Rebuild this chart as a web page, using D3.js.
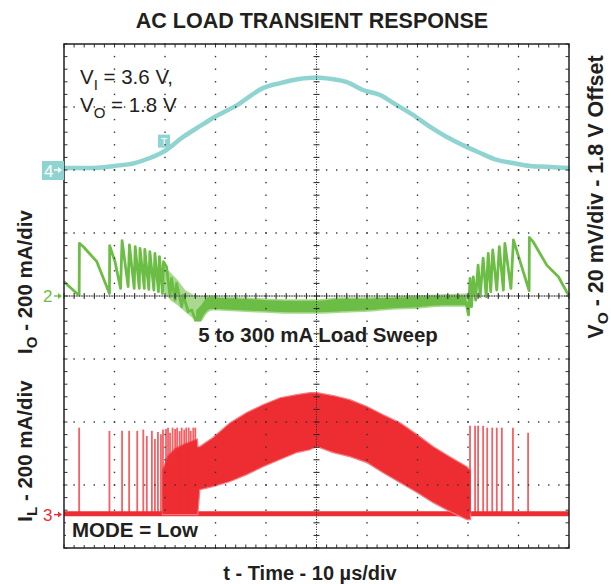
<!DOCTYPE html>
<html><head><meta charset="utf-8">
<script src="https://cdn.jsdelivr.net/npm/d3@7"></script>
<style>
html,body{margin:0;padding:0;background:#fff;}
svg{display:block;font-family:"Liberation Sans",Arial,Helvetica,sans-serif;}
</style></head><body>
<svg id="c" width="611" height="584"></svg>
<script>
// ---------- data ----------
const timeDomain = [0, 100];            // µs, 10 µs/div
const xDivisions = 10, yDivisions = 8;
const chPos = {vo: 2, io: 0, il: -3.47}; // channel reference levels, in divisions

// Channel 4: V_O (mV, 1.8 V offset, 20 mV/div)
const voT  = [0, 5, 10, 14, 17, 19.6, 23.6, 27, 29.5, 34.3, 39.4, 42.8, 46.5, 50, 53, 56, 59.2, 62.6, 65.9, 69.1, 72.5, 75.8, 79, 82.4, 85.7, 88.9, 92.3, 95.6, 100];
const voMV = [0.6, 0.6, 1.3, 2.2, 3.8, 5.7, 10.5, 14.0, 16.5, 20.6, 26.0, 27.6, 28.9, 29.4, 28.9, 27.9, 25.4, 23.8, 20.6, 17.5, 13.7, 10.5, 7.9, 5.4, 3.2, 2.2, 1.3, 1.0, 0.6];

// Channel 2: I_O (mA, 200 mA/div) - trace line
const ioT  = [0, 2.5, 3.0, 3.05, 3.8, 6.5, 9.0, 9.05, 10.1, 11.2, 11.5, 12.7, 12.95, 13.9, 14.1, 14.9, 15.05, 15.9, 16.0, 16.8, 17.0, 17.8, 18.0, 18.7, 18.9, 19.5, 19.7, 20.3, 21.0, 21.3, 22.0, 22.3, 23.3, 23.6, 24.6, 25.3, 26.0, 26.9, 27.6, 28.6, 29.6, 35, 40, 50, 60, 70, 78, 79.6,
              80.1, 80.4, 80.7, 81.05, 81.5, 82.0, 82.4, 83.0, 83.6, 84.0, 84.5, 84.9, 85.7, 86.2, 87.0, 87.3, 88.5, 89.0, 92.1, 92.15, 92.9, 95.6, 97.9, 99.9];
const ioMA = [45, 8.5, 3, 167, 157, 109, 8, 160, 109, 24, 176, 30, 162, 24, 157, 24, 151, 24, 148, 21, 141, 19, 135, 14, 125, 8, 109, 93, -2, 56, -13, 40, -34, 3, -50, -44, -76, -76, -44, -13, -7, -25, -30, -32, -25, -18, -15, -20,
              -60, 56, -34, 61, -13, 98, -2, 120, -2, 135, 14, 146, 19, 157, 19, 167, 24, 178, 17, 186, 172, 98, 61, 3];
// I_O noise band (light, transition) and (dark, steady)
const ioLightT  = [19.5, 21, 22.5, 24, 25.5, 27, 28.5, 29.5];
const ioLightHi = [98, 76, 51, 19, 5, 0, 0, -3];
const ioLightLo = [19, -13, -29, -51, -70, -79, -51, -44];
const ioBandT  = [26, 27, 28, 29, 30, 35, 40, 45, 50, 55, 60, 65, 70, 75, 79.8];
const ioBandHi = [-44, -29, -6, 0, -3, -6, -10, -13, -13, -6, -6, -3, 0, 3, 6];
const ioBandLo = [-79, -79, -57, -44, -44, -48, -51, -54, -54, -51, -48, -41, -38, -32, -32];

// Channel 3: I_L (mA, 200 mA/div)
const ilBaseT  = [0, 100];
const ilBaseMA = [3, 3];
const ilT  = [19.5, 20.5, 22, 24, 26.4, 26.5, 26.9, 29.5, 32.9, 36.2, 39.4, 42.8, 46.1, 48.7, 50.1, 53.3, 56.6, 60, 63.2, 66.5, 69.9, 73.1, 76.4, 79.8, 80.5];
const ilHi = [140, 185, 210, 225, 240, 216, 216, 245, 292, 324, 349, 371, 381, 387, 387, 378, 365, 343, 317, 292, 254, 216, 184, 152, 140];
const ilLo = [0, 0, 0, 0, 0, 0, 79, 89, 105, 127, 152, 175, 197, 206, 216, 197, 184, 165, 133, 102, 70, 38, 10, -16, -16];
const spikeT  = [3.0, 9.0, 11.5, 12.9, 14.5, 15.7, 16.4, 17.4, 18.0, 18.6, 19.2, 19.6, 20.2, 20.6, 21.0, 21.5, 22.0, 22.4, 22.9, 23.3, 23.8, 24.2, 24.7, 25.1, 25.6, 26.0,
                 80.4, 81.4, 82.0, 83.0, 83.8, 84.8, 85.7, 86.7, 88.9, 91.9];
const spikeMA = [276, 266, 266, 266, 266, 270, 250, 266, 240, 262, 255, 270, 272, 276, 260, 276, 272, 276, 265, 276, 270, 276, 276, 266, 276, 276,
                 282, 282, 282, 282, 276, 276, 276, 276, 276, 260];

const trigT = 19.8, trigMV = 9;

// ---------- drawing ----------
const svg = d3.select("#c");
const L = 64, R = 569, T = 44, B = 548;
const xT = d3.scaleLinear().domain(timeDomain).range([L, R]);
const xDiv = d3.scaleLinear().domain([0, xDivisions]).range([L, R]);
const yDiv = d3.scaleLinear().domain([-yDivisions/2, yDivisions/2]).range([B, T]);
const yVO = d3.scaleLinear().domain([0, 20]).range([yDiv(chPos.vo), yDiv(chPos.vo + 1)]);
const yIO = d3.scaleLinear().domain([0, 200]).range([yDiv(chPos.io), yDiv(chPos.io + 1)]);
const yIL = d3.scaleLinear().domain([0, 200]).range([yDiv(chPos.il), yDiv(chPos.il + 1)]);

const CY = "#8fd4d1", GR = "#6cbd45", GRL = "#a8d98f", RD = "#ee2d33", RDL = "#f47b80", INK = "#231f20";

const zip = (a, b) => a.map((v, i) => [v, b[i]]);
const traces = svg.append("g");

// red I_L
traces.append("path").datum(zip(ilBaseT, ilBaseMA))
  .attr("d", d3.line().x(d => xT(d[0])).y(d => yIL(d[1])))
  .attr("fill", "none").attr("stroke", RD).attr("stroke-width", 5);
traces.append("path").datum(ilT.map((t, i) => [t, ilLo[i], ilHi[i]]))
  .attr("d", d3.area().x(d => xT(d[0])).y0(d => yIL(d[1])).y1(d => yIL(d[2])))
  .attr("fill", RD).attr("stroke", RDL).attr("stroke-width", 1.2);
traces.selectAll(".spk").data(zip(spikeT, spikeMA)).join("line")
  .attr("x1", d => xT(d[0])).attr("x2", d => xT(d[0]))
  .attr("y1", yIL(ilBaseMA[0])).attr("y2", d => yIL(d[1]))
  .attr("stroke", RD).attr("stroke-width", 1.8).attr("opacity", 0.75);

// green I_O
traces.append("path").datum(ioLightT.map((t, i) => [t, ioLightLo[i], ioLightHi[i]]))
  .attr("d", d3.area().x(d => xT(d[0])).y0(d => yIO(d[1])).y1(d => yIO(d[2])))
  .attr("fill", GRL);
traces.append("path").datum(ioBandT.map((t, i) => [t, ioBandLo[i], ioBandHi[i]]))
  .attr("d", d3.area().x(d => xT(d[0])).y0(d => yIO(d[1])).y1(d => yIO(d[2])).curve(d3.curveMonotoneX))
  .attr("fill", GR).attr("stroke", GRL).attr("stroke-width", 1.5);
traces.append("path").datum(zip(ioT, ioMA))
  .attr("d", d3.line().x(d => xT(d[0])).y(d => yIO(d[1])))
  .attr("fill", "none").attr("stroke", GR).attr("stroke-width", 2.8).attr("stroke-linejoin", "round");

// cyan V_O
traces.append("path").datum(zip(voT, voMV))
  .attr("d", d3.line().x(d => xT(d[0])).y(d => yVO(d[1])).curve(d3.curveMonotoneX))
  .attr("fill", "none").attr("stroke", CY).attr("stroke-width", 4.5);
// trigger marker
const tg = traces.append("g").attr("transform", `translate(${xT(trigT)},${yVO(trigMV)})`);
tg.append("rect").attr("x", -6).attr("y", -7).attr("width", 12).attr("height", 13).attr("fill", CY);
tg.append("text").attr("x", 0).attr("y", 4).attr("text-anchor", "middle").attr("font-size", 11).attr("fill", "#fff").text("T");

// ---------- grid ----------
const grid = svg.append("g");
const minorX = d3.range(0, xDivisions * 5 + 1).map(i => i / 5);
const minorY = d3.range(0, yDivisions * 5 + 1).map(i => -yDivisions/2 + i / 5);
const dots = [];
for (let i = 1; i < xDivisions; i++) { if (i === xDivisions/2) continue; minorY.forEach(m => dots.push([xDiv(i), yDiv(m)])); }
for (let j = -yDivisions/2 + 1; j < yDivisions/2; j++) { if (j === 0) continue; minorX.forEach(m => dots.push([xDiv(m), yDiv(j)])); }
grid.selectAll(".d").data(dots).join("rect")
  .attr("x", d => d[0] - 0.7).attr("y", d => d[1] - 0.7).attr("width", 1.4).attr("height", 1.4).attr("fill", "#333");
// center lines
grid.append("line").attr("x1", L).attr("x2", R).attr("y1", yDiv(0)).attr("y2", yDiv(0)).attr("stroke", "#999").attr("stroke-width", 1);
grid.append("line").attr("x1", L).attr("x2", R).attr("y1", yDiv(0)).attr("y2", yDiv(0)).attr("stroke", "#222").attr("stroke-width", 1).attr("stroke-dasharray", "1,1.5");
grid.append("line").attr("x1", xDiv(5)).attr("x2", xDiv(5)).attr("y1", T).attr("y2", B).attr("stroke", "#222").attr("stroke-width", 1).attr("stroke-dasharray", "1,1.5");
grid.selectAll(".cx").data(minorX).join("line")
  .attr("x1", d => xDiv(d)).attr("x2", d => xDiv(d)).attr("y1", yDiv(0) - 3).attr("y2", yDiv(0) + 3).attr("stroke", "#222");
grid.selectAll(".cy").data(minorY).join("line")
  .attr("y1", d => yDiv(d)).attr("y2", d => yDiv(d)).attr("x1", xDiv(5) - 3).attr("x2", xDiv(5) + 3).attr("stroke", "#222");
// border ticks
grid.selectAll(".bt").data(minorX).join("line")
  .attr("x1", d => xDiv(d)).attr("x2", d => xDiv(d)).attr("y1", T).attr("y2", T + 3.5).attr("stroke", "#333");
grid.selectAll(".bb").data(minorX).join("line")
  .attr("x1", d => xDiv(d)).attr("x2", d => xDiv(d)).attr("y1", B).attr("y2", B - 3.5).attr("stroke", "#333");
grid.selectAll(".bl").data(minorY).join("line")
  .attr("y1", d => yDiv(d)).attr("y2", d => yDiv(d)).attr("x1", L).attr("x2", L + 3.5).attr("stroke", "#333");
grid.selectAll(".br").data(minorY).join("line")
  .attr("y1", d => yDiv(d)).attr("y2", d => yDiv(d)).attr("x1", R).attr("x2", R - 3.5).attr("stroke", "#333");
grid.append("rect").attr("x", L).attr("y", T).attr("width", R - L).attr("height", B - T)
  .attr("fill", "none").attr("stroke", "#222").attr("stroke-width", 1.5);

// ---------- channel markers ----------
function arrow(g, x, y, col) {
  g.append("line").attr("x1", x).attr("x2", x + 6).attr("y1", y).attr("y2", y).attr("stroke", col).attr("stroke-width", 1.4);
  g.append("path").attr("d", `M${x+4},${y-3}L${x+8},${y}L${x+4},${y+3}Z`).attr("fill", col);
}
const mk = svg.append("g");
const y4 = yVO(0);
mk.append("rect").attr("x", 42).attr("y", y4 - 9).attr("width", 22).attr("height", 19).attr("fill", CY);
mk.append("text").attr("x", 44).attr("y", y4 + 6.5).attr("font-size", 17).attr("fill", "#fff").text("4");
arrow(mk, 54, y4, "#fff");
const y2 = yIO(0);
mk.append("text").attr("x", 43).attr("y", y2 + 6).attr("font-size", 17).attr("fill", GR).text("2");
arrow(mk, 54, y2, GR);
const y3 = yIL(0);
mk.append("text").attr("x", 43).attr("y", y3 + 6).attr("font-size", 17).attr("fill", RD).text("3");
arrow(mk, 54, y3, RD);

// ---------- texts ----------
svg.append("text").attr("x", 312).attr("y", 28).attr("text-anchor", "middle")
  .attr("font-size", 21.5).attr("font-weight", "bold").attr("fill", INK).text("AC LOAD TRANSIENT RESPONSE");
svg.append("text").attr("x", 310).attr("y", 580).attr("text-anchor", "middle")
  .attr("font-size", 20).attr("font-weight", "bold").attr("fill", INK).text("t - Time - 10 µs/div");

function sub(sel, main, s, rest, fs, sfs, dy) {
  sel.append("tspan").text(main);
  sel.append("tspan").attr("font-size", sfs).attr("dy", dy).text(s);
  sel.append("tspan").attr("dy", -dy).text(rest);
}
const t1 = svg.append("text").attr("x", 80).attr("y", 84).attr("font-size", 20.5).attr("fill", INK);
sub(t1, "V", "I", " = 3.6 V,", 20.5, 15, 6);
const t2 = svg.append("text").attr("x", 80).attr("y", 112).attr("font-size", 20.5).attr("fill", INK);
sub(t2, "V", "O", " = 1.8 V", 20.5, 15, 6);

svg.append("text").attr("x", 318).attr("y", 342).attr("text-anchor", "middle")
  .attr("font-size", 20.5).attr("font-weight", "bold").attr("fill", INK).text("5 to 300 mA Load Sweep");

svg.append("rect").attr("x", 66).attr("y", 519).attr("width", 140).attr("height", 26).attr("fill", "#fff");
svg.append("text").attr("x", 72).attr("y", 537)
  .attr("font-size", 20.5).attr("font-weight", "bold").attr("fill", INK).text("MODE = Low");

const lo = svg.append("text").attr("transform", "translate(32,282) rotate(-90)").attr("text-anchor", "middle")
  .attr("font-size", 20.5).attr("font-weight", "bold").attr("fill", INK);
sub(lo, "I", "O", " - 200 mA/div", 20.5, 15, 5);
const ll = svg.append("text").attr("transform", "translate(32,451) rotate(-90)").attr("text-anchor", "middle")
  .attr("font-size", 20.5).attr("font-weight", "bold").attr("fill", INK);
sub(ll, "I", "L", " - 200 mA/div", 20.5, 15, 5);
const rl = svg.append("text").attr("transform", "translate(603,197) rotate(-90)").attr("text-anchor", "middle")
  .attr("font-size", 21.5).attr("font-weight", "bold").attr("fill", INK);
sub(rl, "V", "O", " - 20 mV/div - 1.8 V Offset", 21.5, 15.5, 5);
</script></body></html>
